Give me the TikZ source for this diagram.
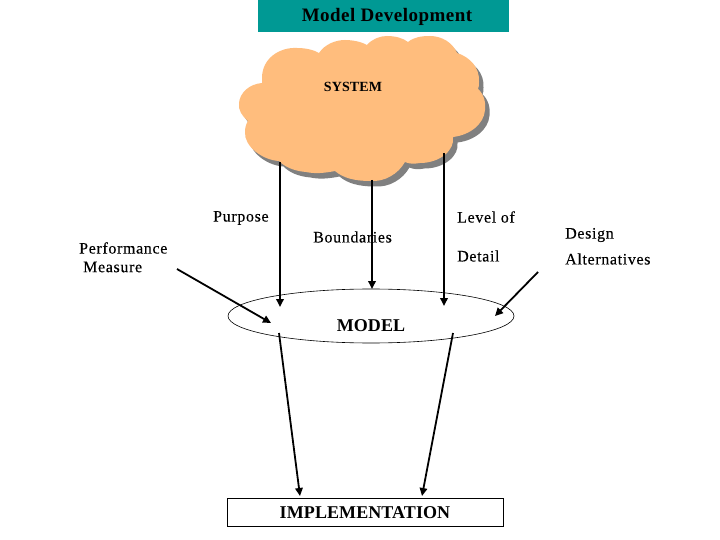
\documentclass[tikz,border=0pt]{standalone}
\usepackage{fontspec}
\setmainfont{Liberation Serif}
\newfontfamily\labfont[LetterSpace=4,FakeBold=0.2]{Liberation Serif}
\newfontfamily\headfont[LetterSpace=2.6]{Liberation Serif Bold}
\newfontfamily\capsfont[LetterSpace=0.5]{Liberation Serif Bold}
\newfontfamily\sysfont[LetterSpace=1]{Liberation Serif Bold}
\usetikzlibrary{arrows.meta,shapes.geometric}
\definecolor{teal1}{RGB}{0,153,148}
\definecolor{cloudfill}{RGB}{255,189,125}
\definecolor{cloudshadow}{RGB}{128,128,128}
\tikzset{
  conn/.style={line width=1.8pt,-{Triangle[length=8pt,width=7.5pt]}},
  lab/.style={font=\labfont\fontsize{16}{18}\selectfont,inner sep=0pt,anchor=west,align=left},
  labb/.style={font=\capsfont\fontsize{18}{20}\selectfont,inner sep=0pt}
}
\newcommand{\cloudpath}{
  (262,78) .. controls (262,58) and (280,47) .. (297,48)
  .. controls (306,48) and (314,50) .. (319,53)
  .. controls (325,44) and (336,40) .. (345,40)
  .. controls (353,40) and (362,42) .. (367,45)
  .. controls (372,39) and (380,36) .. (387,36)
  .. controls (395,36) and (403,38) .. (408,42)
  .. controls (414,37) and (422,36) .. (430,36)
  .. controls (442,36) and (453,43) .. (457,53)
  .. controls (470,57) and (480,68) .. (479,82)
  .. controls (479,85) and (479,87) .. (478,89)
  .. controls (484,94) and (486,103) .. (485,110)
  .. controls (484,124) and (470,135) .. (453,137)
  .. controls (455,150) and (440,163) .. (420,163)
  .. controls (414,164) and (409,164) .. (405,162)
  .. controls (398,174) and (385,182) .. (370,181)
  .. controls (355,181) and (343,178) .. (335,171)
  .. controls (325,173) and (315,174) .. (306,172)
  .. controls (294,171) and (285,167) .. (279,161)
  .. controls (262,160) and (244,146) .. (245,132)
  .. controls (245,128) and (246,124) .. (248,121)
  .. controls (242,116) and (238,110) .. (239,103)
  .. controls (240,92) and (250,84) .. (262,83)
  -- cycle
}
\begin{document}
\begin{tikzpicture}[x=1pt,y=-1pt]
\useasboundingbox (0,0) rectangle (720,540);
\fill[white] (0,0) rectangle (720,540);
\node[fill=teal1,minimum width=251pt,minimum height=32pt,inner sep=0pt,anchor=north west] (title) at (258,0) {};
\node[font=\headfont\fontsize{19}{21}\selectfont,inner sep=0pt] (titletext) at (387,16.5) {Model Development};
\fill[cloudshadow,shift={(4.5pt,-5.5pt)}] \cloudpath;
\fill[cloudfill] \cloudpath;
\node[font=\sysfont\fontsize{14}{16}\selectfont,inner sep=0pt] (system) at (353,87) {SYSTEM};
\node[draw,ellipse,line width=0.6pt,minimum width=286pt,minimum height=54pt,inner sep=0pt] (model) at (371,316) {};
\node[labb] (modeltext) at (371,326) {MODEL};
\node[draw,line width=0.6pt,fill=white,minimum width=276pt,minimum height=28pt,inner sep=0pt,anchor=north west] (impl) at (227,498) {};
\node[labb] (impltext) at (365,513) {IMPLEMENTATION};
\node[lab] (purpose) at (213,218) {Purpose};
\node[lab] (perf) at (79,248) {Performance};
\node[lab] (measure) at (83,267) {Measure};
\node[lab] (bound) at (313,237) {Boundaries};
\node[lab] (lod) at (457,217) {Level of};
\node[lab] (detail) at (457,256) {Detail};
\node[lab] (design) at (565,235) {Design};
\node[lab] (alts) at (565,259) {Alternatives};
\coordinate (c1) at (280,162);
\coordinate (c2) at (372,180);
\coordinate (c3) at (444,153);
\coordinate (m1) at (280,307);
\coordinate (m2) at (372,289);
\coordinate (m3) at (444,306);
\coordinate (pf) at (177,269);
\coordinate (pt) at (271,323);
\coordinate (df) at (538,272);
\coordinate (dt) at (495,316);
\coordinate (l1) at (279,333);
\coordinate (l2) at (453,333);
\coordinate (i1) at (300,496);
\coordinate (i2) at (422,496);
\draw[conn] (c1) -- (m1);
\draw[conn] (c2) -- (m2);
\draw[conn] (c3) -- (m3);
\draw[conn] (pf) -- (pt);
\draw[conn] (df) -- (dt);
\draw[conn] (l1) -- (i1);
\draw[conn] (l2) -- (i2);
\end{tikzpicture}
\end{document}
